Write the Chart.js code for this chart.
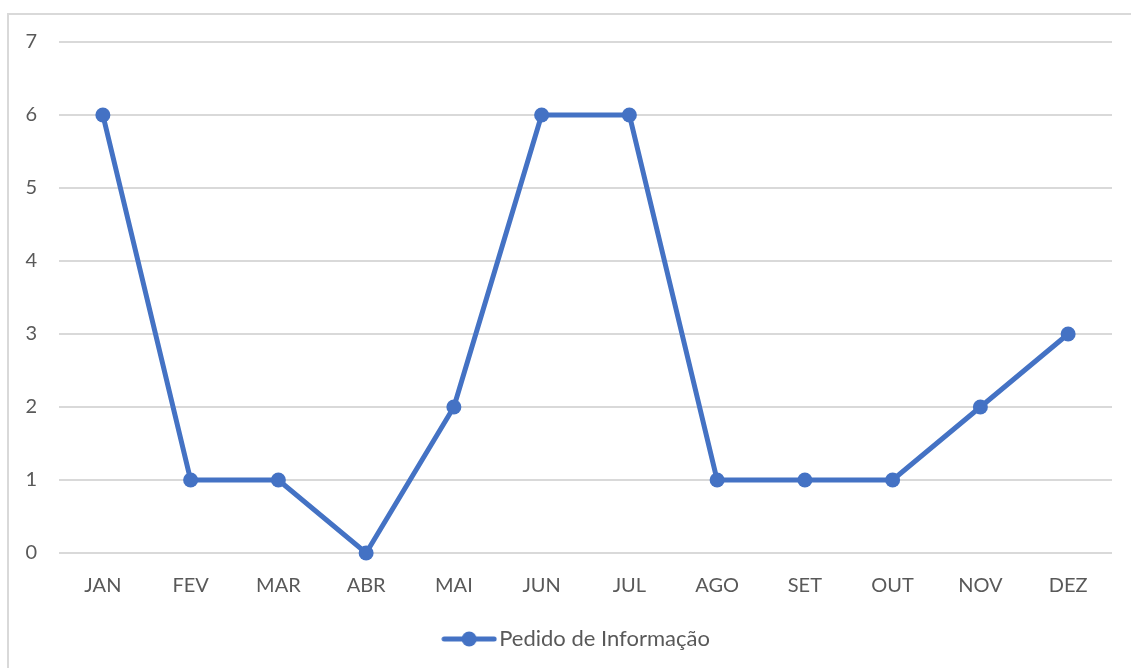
<!DOCTYPE html>
<html>
<head>
<meta charset="utf-8">
<script src="https://cdn.jsdelivr.net/npm/chart.js@4"></script>
<style>
  html, body { margin: 0; padding: 0; background: #fff; }
  body { width: 1131px; height: 668px; position: relative; overflow: hidden; }
  .moldura { position: absolute; left: 7px; top: 13px; width: 1140px; height: 680px; border: 2px solid #d9d9d9; }
  .area { position: absolute; left: 0; top: 0; width: 1131px; height: 668px; }
</style>
</head>
<body>
<div class="moldura"></div>
<div class="area"><canvas id="graficoPedidos"></canvas></div>
<script>
const meses = ['JAN', 'FEV', 'MAR', 'ABR', 'MAI', 'JUN', 'JUL', 'AGO', 'SET', 'OUT', 'NOV', 'DEZ'];
const pedidosInformacao = [6, 1, 1, 0, 2, 6, 6, 1, 1, 1, 2, 3];
const nomeSerie = 'Pedido de Informação';

const azul = '#4472C4';
const corTexto = '#595959';
const fonte = "Lato, 'Open Sans', sans-serif";

// ícone da legenda: linha com bolinha no meio
const icone = document.createElement('canvas');
icone.width = 56;
icone.height = 18;
const ictx = icone.getContext('2d');
ictx.strokeStyle = azul;
ictx.lineWidth = 5;
ictx.lineCap = 'round';
ictx.beginPath();
ictx.moveTo(3, 9);
ictx.lineTo(53, 9);
ictx.stroke();
ictx.fillStyle = azul;
ictx.beginPath();
ictx.arc(28, 9, 7.5, 0, Math.PI * 2);
ictx.fill();

// empurra a legenda um pouco pra direita, como no original
const deslocaLegenda = {
  id: 'deslocaLegenda',
  afterLayout(chart) {
    const leg = chart.legend;
    if (!leg) return;
    leg.left += 24;
    leg.right += 24;
  }
};

const ctx = document.getElementById('graficoPedidos').getContext('2d');

new Chart(ctx, {
  type: 'line',
  data: {
    labels: meses,
    datasets: [{
      label: nomeSerie,
      data: pedidosInformacao,
      borderColor: azul,
      backgroundColor: azul,
      borderWidth: 5,
      tension: 0,
      clip: false,
      pointRadius: 7.5,
      pointHoverRadius: 7.5,
      pointBorderWidth: 0,
      pointBackgroundColor: azul
    }]
  },
  options: {
    responsive: true,
    maintainAspectRatio: false,
    animation: false,
    layout: {
      padding: { top: 42, right: 19, bottom: 8, left: 0 }
    },
    plugins: {
      legend: {
        display: true,
        position: 'bottom',
        labels: {
          usePointStyle: true,
          pointStyle: icone,
          pointStyleWidth: 38, // menor que o ícone pra colar o texto
          color: corTexto,
          padding: 14,
          font: { family: fonte, size: 22 }
        }
      },
      tooltip: { enabled: false }
    },
    scales: {
      x: {
        offset: true,
        grid: { display: false, drawTicks: false },
        border: { display: false },
        ticks: {
          color: corTexto,
          padding: 21,
          font: { family: fonte, size: 20 }
        },
        afterFit: (escala) => { escala.height = 61; }
      },
      y: {
        min: 0,
        max: 7,
        grid: { color: '#d9d9d9', lineWidth: 2, drawTicks: false },
        border: { display: false },
        ticks: {
          stepSize: 1,
          color: corTexto,
          padding: 22,
          font: { family: fonte, size: 20 }
        },
        afterFit: (escala) => { escala.width = 59; }
      }
    }
  },
  plugins: [deslocaLegenda]
});
</script>
</body>
</html>
